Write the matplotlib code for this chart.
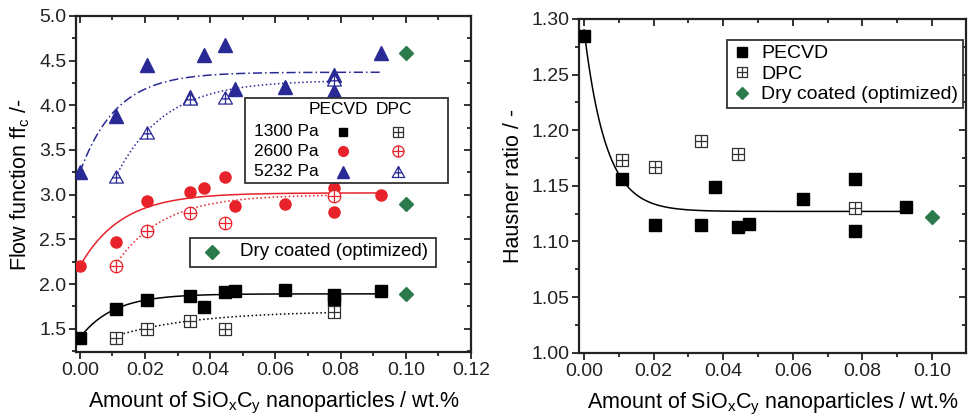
import numpy as np
import matplotlib
matplotlib.use('Agg')
import matplotlib.pyplot as plt
from matplotlib.path import Path
from matplotlib.lines import Line2D
from matplotlib.patches import Rectangle

plt.rcParams['font.family'] = ['Liberation Sans', 'DejaVu Sans']
plt.rcParams['mathtext.fontset'] = 'custom'
plt.rcParams['mathtext.rm'] = 'Liberation Sans'

# flow function data (left panel)
x_pe = [0.0, 0.011, 0.0205, 0.0337, 0.038, 0.0445, 0.0475, 0.063, 0.078, 0.078, 0.0925]
ff_pe_1300 = [1.40, 1.72, 1.82, 1.87, 1.745, 1.91, 1.92, 1.935, 1.88, 1.82, 1.92]
ff_pe_2600 = [2.20, 2.47, 2.93, 3.03, 3.07, 3.20, 2.875, 2.89, 3.08, 2.81, 3.00]
ff_pe_5232 = [3.25, 3.88, 4.45, 4.09, 4.56, 4.67, 4.18, 4.20, 4.34, 4.16, 4.59]
x_dpc = [0.011, 0.0205, 0.0337, 0.0445, 0.078]
ff_dpc_1300 = [1.40, 1.50, 1.59, 1.50, 1.69]
ff_dpc_2600 = [2.20, 2.59, 2.79, 2.68, 2.99]
ff_dpc_5232 = [3.20, 3.69, 4.07, 4.08, 4.28]
x_dry = [0.10, 0.10, 0.10]
ff_dry = [1.89, 2.90, 4.59]

# Hausner ratio data (right panel)
hr_x_pe = [0.0, 0.0109, 0.0204, 0.0336, 0.0377, 0.0443, 0.0474, 0.063, 0.078, 0.078, 0.0925]
hr_pe = [1.285, 1.156, 1.115, 1.115, 1.149, 1.113, 1.116, 1.138, 1.156, 1.109, 1.131]
hr_x_dpc = [0.011, 0.0204, 0.0336, 0.0443, 0.078]
hr_dpc = [1.173, 1.167, 1.190, 1.179, 1.130]
hr_x_dry = [0.10]
hr_dry = [1.122]

# exponential fit curves: (x0, x1, y at x0, plateau, tau)
fit_pe_1300 = (0.0, 0.0925, 1.40, 1.89, 0.0103)
fit_pe_2600 = (0.0, 0.0925, 2.20, 3.02, 0.0127)
fit_pe_5232 = (0.0, 0.0925, 3.25, 4.37, 0.0112)
fit_dpc_1300 = (0.011, 0.078, 1.42, 1.70, 0.025)
fit_dpc_2600 = (0.011, 0.078, 2.22, 3.00, 0.0145)
fit_dpc_5232 = (0.011, 0.078, 3.20, 4.28, 0.0149)
fit_hr = (0.0, 0.0925, 1.29, 1.127, 0.0063)

BLUE = '#2a2a96'
RED = '#e8222a'
GREEN = '#2b7a4b'


def fit_curve(p):
    x0, x1, y0, yinf, tau = p
    x = np.linspace(x0, x1, 200)
    return x, yinf - (yinf - y0) * np.exp(-(x - x0) / tau)


def cross_marker(base):
    cross = Path([(-1, 0), (1, 0), (0, -1), (0, 1)],
                 [Path.MOVETO, Path.LINETO, Path.MOVETO, Path.LINETO])
    return Path.make_compound_path(base, cross)


sq = Path([(-1, -1), (1, -1), (1, 1), (-1, 1), (-1, -1)],
          [Path.MOVETO, Path.LINETO, Path.LINETO, Path.LINETO, Path.CLOSEPOLY])
SQX = cross_marker(sq)
CIRX = cross_marker(Path.unit_circle())
tri = Path([(-1, -0.8), (1, -0.8), (0, 0.95), (-1, -0.8)],
           [Path.MOVETO, Path.LINETO, Path.LINETO, Path.CLOSEPOLY])
tcross = Path([(-0.55, -0.05), (0.55, -0.05), (0, -0.8), (0, 0.95)],
              [Path.MOVETO, Path.LINETO, Path.MOVETO, Path.LINETO])
TRIX = Path.make_compound_path(tri, tcross)


def style_axes(ax):
    for s in ax.spines.values():
        s.set_linewidth(1.6)
        s.set_color('#222222')
    ax.tick_params(which='both', top=True, right=True, labelsize=14,
                   colors='#222222', width=1.3, direction='out', pad=2)
    ax.tick_params(which='major', length=5)
    ax.tick_params(which='minor', length=3)
    # top/right ticks point inwards
    for t in ax.xaxis.get_major_ticks() + ax.xaxis.get_minor_ticks():
        t.tick2line.set_marker(matplotlib.lines.TICKDOWN)
    for t in ax.yaxis.get_major_ticks() + ax.yaxis.get_minor_ticks():
        t.tick2line.set_marker(matplotlib.lines.TICKLEFT)


fig = plt.figure(figsize=(9.68, 4.19), dpi=100)
ax1 = fig.add_axes([0.0785, 0.160, 0.408, 0.802])
ax2 = fig.add_axes([0.598, 0.158, 0.400, 0.797])

xlabel = r'Amount of SiO$_\mathregular{x}$C$_\mathregular{y}$ nanoparticles / wt.%'

# ---- left panel ----
for p, c, ls in [(fit_pe_1300, 'black', '-'), (fit_pe_2600, RED, '-'),
                 (fit_pe_5232, BLUE, (0, (6, 2, 1, 2))),
                 (fit_dpc_1300, 'black', ':'), (fit_dpc_2600, RED, ':'),
                 (fit_dpc_5232, BLUE, ':')]:
    xc, yc = fit_curve(p)
    ax1.plot(xc, yc, color=c, ls=ls, lw=1.1, zorder=2)

ax1.plot(x_pe, ff_pe_1300, 's', color='black', ms=8, zorder=3)
ax1.plot(x_pe, ff_pe_2600, 'o', color=RED, ms=8, zorder=3)
ax1.plot(x_pe, ff_pe_5232, '^', color=BLUE, ms=9.5, zorder=3)
ax1.plot(x_dpc, ff_dpc_1300, ls='none', marker=SQX, ms=8, mfc='white', mec='#333333', mew=0.9, zorder=3)
ax1.plot(x_dpc, ff_dpc_2600, ls='none', marker=CIRX, ms=9, mfc='white', mec=RED, mew=0.9, zorder=3)
ax1.plot(x_dpc, ff_dpc_5232, ls='none', marker=TRIX, ms=10, mfc='white', mec=BLUE, mew=0.9, zorder=3)
ax1.plot(x_dry, ff_dry, 'D', color=GREEN, ms=7, zorder=3)

ax1.set_xlim(-0.0012, 0.12)
ax1.set_ylim(1.24, 5.0)
ax1.set_xticks(np.arange(0, 0.121, 0.02))
ax1.set_xticks(np.arange(0, 0.121, 0.01), minor=True)
ax1.set_yticks(np.arange(1.5, 5.01, 0.5))
ax1.set_yticks(np.arange(1.25, 5.01, 0.25), minor=True)
ax1.xaxis.set_major_formatter(matplotlib.ticker.FormatStrFormatter('%.2f'))
ax1.yaxis.set_major_formatter(matplotlib.ticker.FormatStrFormatter('%.1f'))
style_axes(ax1)
ax1.set_xlabel(xlabel, fontsize=15.5, labelpad=8)
ax1.set_ylabel(r'Flow function ff$_\mathregular{c}$ /-', fontsize=15.5, labelpad=5)

# table legend
tr = ax1.transAxes
ax1.add_patch(Rectangle((0.428, 0.503), 0.514, 0.253, transform=tr, fill=True,
                        fc='white', ec='#333333', lw=1.3, zorder=5))
ax1.text(0.664, 0.722, 'PECVD', transform=tr, ha='center', va='center', fontsize=12.5, zorder=6)
ax1.text(0.805, 0.722, 'DPC', transform=tr, ha='center', va='center', fontsize=12.5, zorder=6)
rows = [('1300 Pa', 0.655, dict(marker='s', color='black', ms=6),
         dict(marker=SQX, mfc='white', mec='#333333', mew=0.9, ms=7)),
        ('2600 Pa', 0.598, dict(marker='o', color=RED, ms=7),
         dict(marker=CIRX, mfc='white', mec=RED, mew=0.9, ms=8)),
        ('5232 Pa', 0.536, dict(marker='^', color=BLUE, ms=8),
         dict(marker=TRIX, mfc='white', mec=BLUE, mew=0.9, ms=9))]
for label, yy, m1, m2 in rows:
    ax1.text(0.450, yy, label, transform=tr, ha='left', va='center', fontsize=12.5, zorder=6)
    ax1.add_line(Line2D([0.676], [yy], transform=tr, ls='none', zorder=6, **m1))
    ax1.add_line(Line2D([0.815], [yy], transform=tr, ls='none', zorder=6, **m2))

ax1.add_patch(Rectangle((0.289, 0.253), 0.622, 0.086, transform=tr, fill=True,
                        fc='white', ec='#333333', lw=1.3, zorder=5))
ax1.add_line(Line2D([0.345], [0.298], transform=tr, ls='none', marker='D',
                    color=GREEN, ms=7, zorder=6))
ax1.text(0.415, 0.298, 'Dry coated (optimized)', transform=tr, ha='left',
         va='center', fontsize=13.5, zorder=6)

# ---- right panel ----
xc, yc = fit_curve(fit_hr)
ax2.plot(xc, yc, color='black', lw=1.1, zorder=2)
ax2.plot(hr_x_pe, hr_pe, 's', color='black', ms=8, zorder=3, label='PECVD')
ax2.plot(hr_x_dpc, hr_dpc, ls='none', marker=SQX, ms=8, mfc='white', mec='#333333',
         mew=0.9, zorder=3, label='DPC')
ax2.plot(hr_x_dry, hr_dry, 'D', color=GREEN, ms=7, zorder=3, label='Dry coated (optimized)')

ax2.set_xlim(-0.0015, 0.1098)
ax2.set_ylim(1.0, 1.30)
ax2.set_xticks(np.arange(0, 0.101, 0.02))
ax2.set_xticks(np.arange(0, 0.1095, 0.01), minor=True)
ax2.set_yticks(np.arange(1.0, 1.301, 0.05))
ax2.set_yticks(np.arange(1.0, 1.301, 0.025), minor=True)
ax2.xaxis.set_major_formatter(matplotlib.ticker.FormatStrFormatter('%.2f'))
ax2.yaxis.set_major_formatter(matplotlib.ticker.FormatStrFormatter('%.2f'))
style_axes(ax2)
ax2.set_xlabel(xlabel, fontsize=15.5, labelpad=8)
ax2.set_ylabel('Hausner ratio / -', fontsize=15.5, labelpad=5)
leg = ax2.legend(loc='upper right', bbox_to_anchor=(0.992, 0.937), fontsize=14,
                 frameon=True, fancybox=False, edgecolor='#333333', framealpha=1,
                 borderpad=0.25, labelspacing=0.15, handletextpad=0.5,
                 handlelength=1.0, borderaxespad=0, markerscale=0.85)
leg.get_frame().set_linewidth(1.3)

fig.savefig('out.png', dpi=100)
